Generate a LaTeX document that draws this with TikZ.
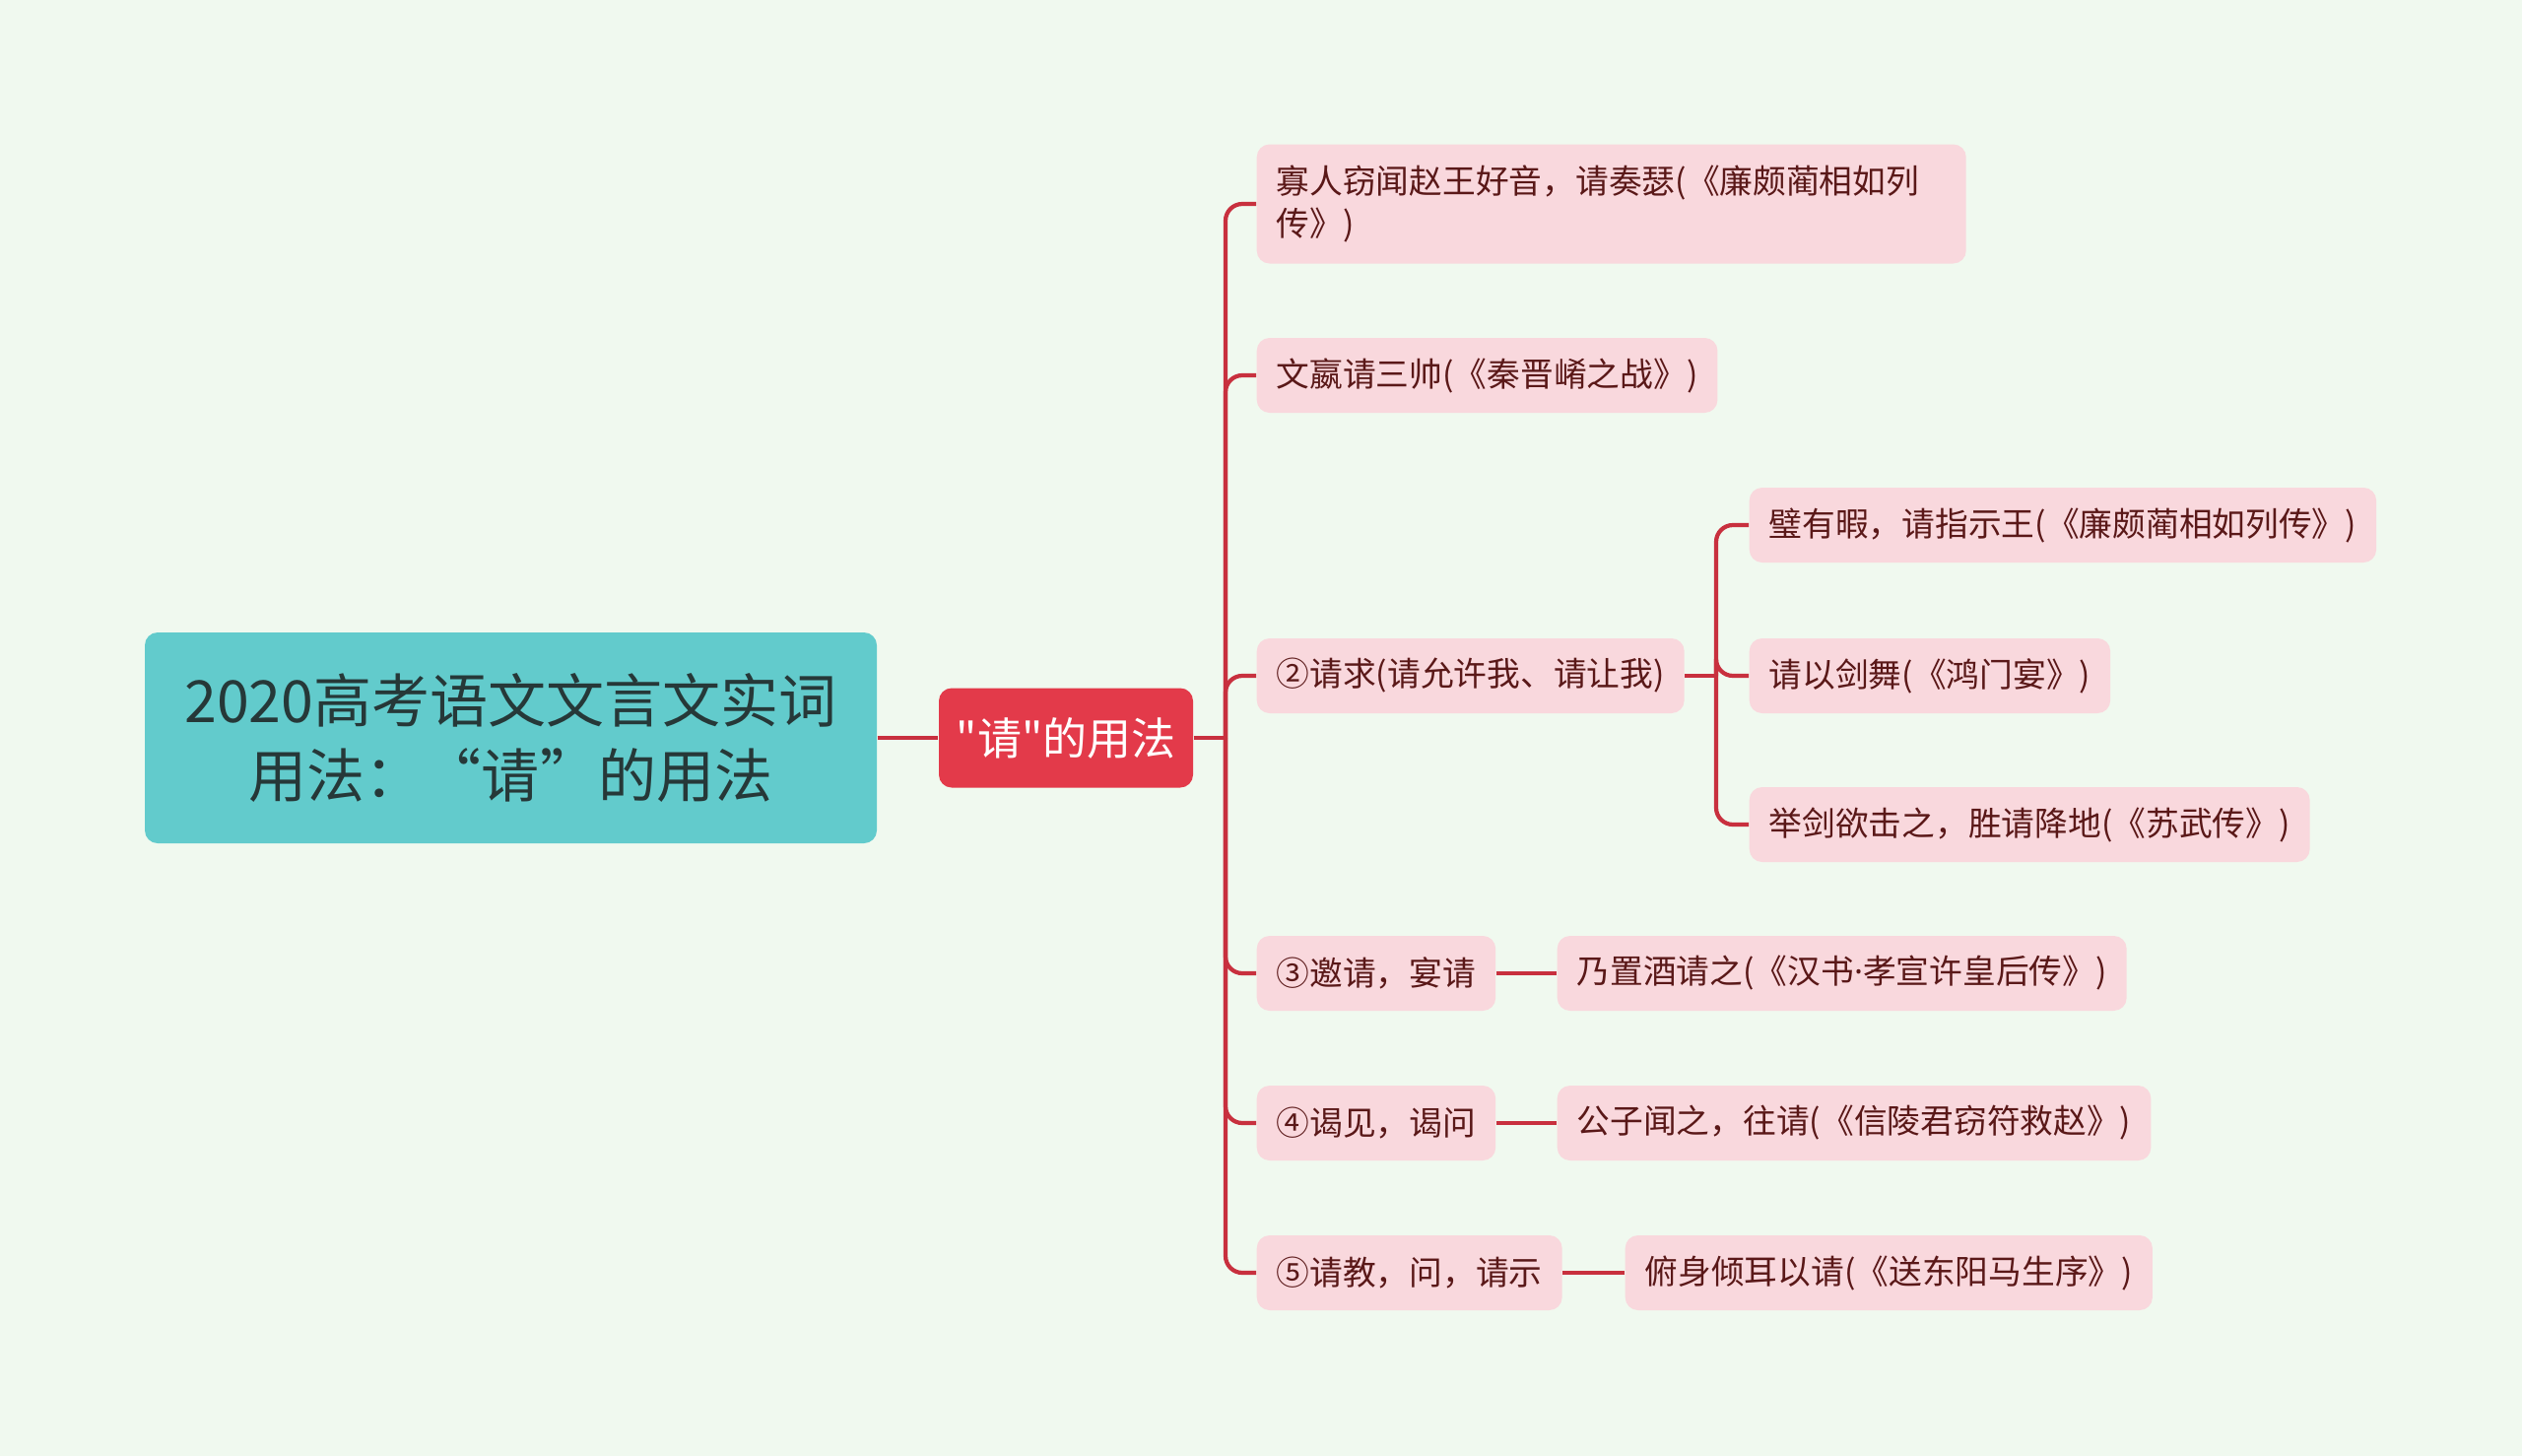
\documentclass[tikz,border=0pt]{standalone}
\usepackage{fontspec}
\setmainfont{Noto Sans CJK SC}[Ligatures=TeXOff]
\newfontfamily\latinfont{Noto Sans}
\definecolor{bgcol}{HTML}{F0F9EF}
\definecolor{rootteal}{HTML}{62CBCC}
\definecolor{roottext}{HTML}{263838}
\definecolor{mainred}{HTML}{E33A4A}
\definecolor{leafpink}{HTML}{F9D8DD}
\definecolor{leaftext}{HTML}{5A1818}
\definecolor{linkred}{HTML}{C8303E}
\begin{document}
\begin{tikzpicture}
	\tikzset{
		leaf/.style={fill=leafpink, rounded corners=0.13cm, text=leaftext, anchor=west,
			font=\fontsize{9.6}{12.5}\selectfont, inner xsep=0.2cm, minimum height=0.76cm, align=left},
		link/.style={draw=linkred, line width=1.2pt, rounded corners=0.17cm},
	}
	\fill[bgcol] (0, 0) rectangle (25.6, -14.78);
	\node[fill=rootteal, rounded corners=0.13cm, text=roottext, align=center,
		minimum width=7.43cm, minimum height=2.14cm,
		font=\fontsize{16.8}{21.5}\selectfont] (root) at (5.185, -7.49)
		{2020高考语文文言文实词\\用法：“请”的用法};
	\node[fill=mainred, rounded corners=0.13cm, text=white, minimum width=2.58cm,
		minimum height=1.01cm, font=\fontsize{12.8}{15}\selectfont] (use) at (10.82, -7.49)
		{"请"的用法};
	% second level
	\node[leaf, minimum height=1.21cm, text width=6.8cm] (q1) at (12.75, -2.07) {寡人窃闻赵王好音，请奏瑟(《廉颇蔺相如列\\传》)};
	\node[leaf] (q2) at (12.75, -3.81) {文嬴请三帅(《秦晋崤之战》)};
	\node[leaf] (q3) at (12.75, -6.86) {②请求(请允许我、请让我)};
	\node[leaf] (q4) at (12.75, -9.88) {③邀请，宴请};
	\node[leaf] (q5) at (12.75, -11.40) {④谒见，谒问};
	\node[leaf] (q6) at (12.75, -12.92) {⑤请教，问，请示};
	% third level
	\node[leaf] (r1) at (17.75, -5.33) {璧有暇，请指示王(《廉颇蔺相如列传》)};
	\node[leaf] (r2) at (17.75, -6.86) {请以剑舞(《鸿门宴》)};
	\node[leaf] (r3) at (17.75, -8.37) {举剑欲击之，胜请降地(《苏武传》)};
	\node[leaf] (r4) at (15.80, -9.88) {乃置酒请之(《汉书{\latinfont ·}孝宣许皇后传》)};
	\node[leaf] (r5) at (15.80, -11.40) {公子闻之，往请(《信陵君窃符救赵》)};
	\node[leaf] (r6) at (16.49, -12.92) {俯身倾耳以请(《送东阳马生序》)};
	% connectors
	\coordinate (hub) at (12.44, -7.49);
	\coordinate (hubq) at (17.42, -6.86);
	\draw[link] (root.east) -- (use.west);
	\draw[link] (use.east) -- (hub);
	\foreach \n in {q1, q2, q3, q4, q5, q6}{
		\draw[link] (hub) |- (\n.west);
	}
	\draw[link] (q3.east) -- (hubq);
	\foreach \n in {r1, r2, r3}{
		\draw[link] (hubq) |- (\n.west);
	}
	\draw[link] (q4.east) -- (r4.west);
	\draw[link] (q5.east) -- (r5.west);
	\draw[link] (q6.east) -- (r6.west);
\end{tikzpicture}
\end{document}
